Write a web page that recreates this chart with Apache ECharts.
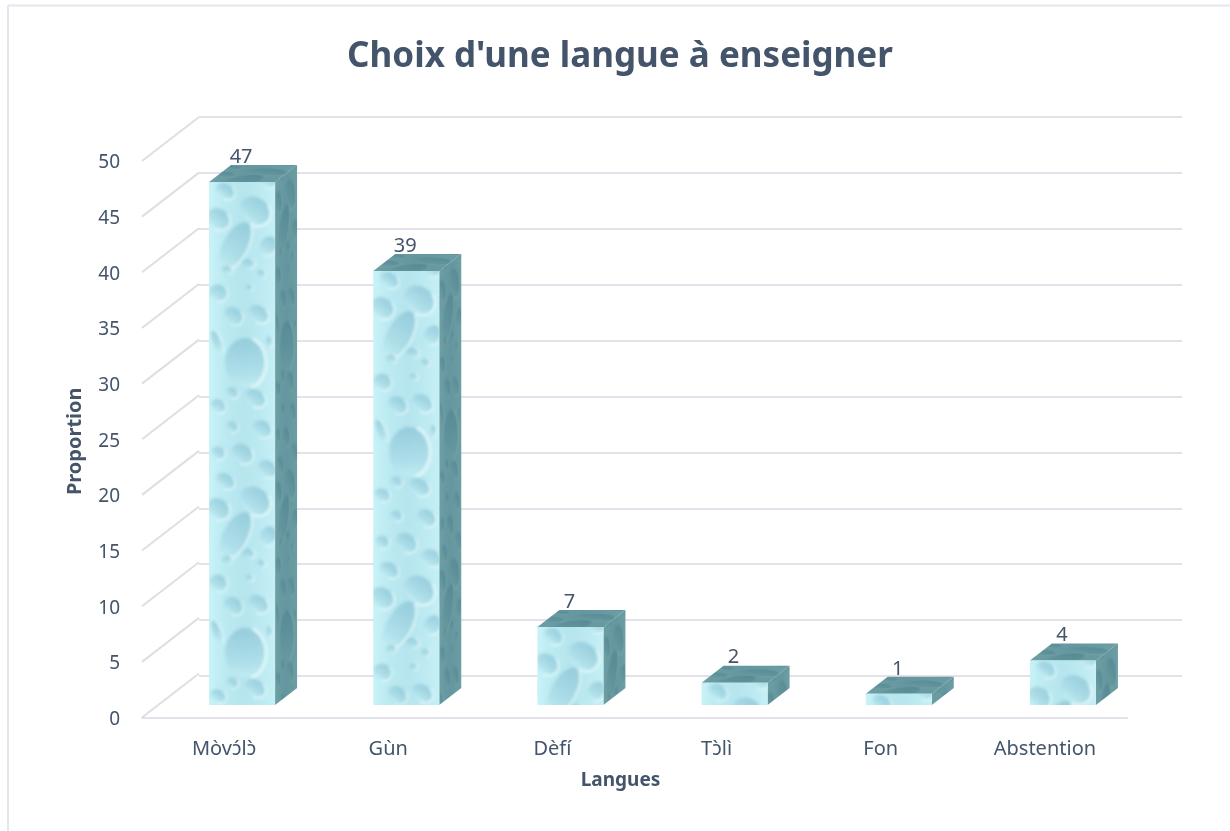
<!DOCTYPE html>
<html><head><meta charset="utf-8">
<style>html,body{margin:0;padding:0;background:#fff}#c{width:1230px;height:831px}</style>
<script src="https://cdn.jsdelivr.net/npm/echarts@6/dist/echarts.min.js"></script>
</head><body><div id="c"></div>
<script>
const categories = ['Mòvɔ́lɔ̀', 'Gùn', 'Dèfí', 'Tɔ̀lì', 'Fon', 'Abstention'];
const values = [47, 39, 7, 2, 1, 4];
const ticks = [0, 5, 10, 15, 20, 25, 30, 35, 40, 45, 50];
const titleText = "Choix d'une langue à enseigner";
const xName = 'Langues';
const yName = 'Proportion';

const FONT = '"Noto Sans", "Open Sans", sans-serif';
const INK = '#44546a';
const GRIDC = '#e3e2ea';

// Water-drop texture tile: [cx, cy, rx, ry, rotationDeg]
const drops = [
  [16,9,10,7,35],[46,29,16,13,40],[9,37,12,10,35],[26,64,12,26,28],[59,64,8,10,30],
  [39,82,6,5,0],[52,92,4,4,0],[18,88,5,4,0],[9,111,9,8,30],[40,106,4,3,0],[24,134,10,8,35],[49,132,11,8,35],
  [36,181,20,25,0],[46,216,11,8,35],[23,211,6,5,30],[9,224,8,6,30],[53,247,10,8,35],
  [23,245,6,5,30],[9,271,7,6,35],[33,272,11,9,35],[58,287,10,8,35],[8,160,4,12,-20],[60,160,3,6,0]
];
function makeTile(tint, strength) {
  const w = 66, h = 290, c = document.createElement('canvas');
  c.width = w; c.height = h;
  const g = c.getContext('2d');
  g.fillStyle = '#bde8f0'; g.fillRect(0, 0, w, h);
  const wash = g.createLinearGradient(0, 0, w, 0);
  wash.addColorStop(0, 'rgba(205,248,252,0.7)');
  wash.addColorStop(0.5, 'rgba(170,225,236,0.35)');
  wash.addColorStop(1, 'rgba(205,248,252,0.5)');
  g.fillStyle = wash; g.fillRect(0, 0, w, h);
  g.filter = 'blur(1.6px)';
  [-h, 0, h].forEach(function (oy) {
    drops.forEach(function (d) {
      g.save();
      g.translate(d[0], d[1] + oy);
      g.rotate(d[4] * Math.PI / 180);
      g.globalAlpha = strength;
      g.beginPath(); g.ellipse(0, 0, d[2], d[3], 0, 0, Math.PI * 2);
      const gr = g.createLinearGradient(0, -d[3], 0, d[3]);
      gr.addColorStop(0, '#84bfd2');
      gr.addColorStop(0.7, '#a9dbe6');
      gr.addColorStop(1, '#c8f0f6');
      g.fillStyle = gr; g.fill();
      g.beginPath(); g.ellipse(0, 0, d[2] + 1, d[3] + 1, 0, -1.2, 1.3);
      g.strokeStyle = '#f2ffff';
      g.lineWidth = Math.max(1.6, d[2] / 6); g.stroke();
      g.restore();
    });
  });
  g.filter = 'none';
  if (tint) {
    g.globalCompositeOperation = 'multiply';
    g.fillStyle = tint; g.fillRect(0, 0, w, h);
  }
  return c;
}
const frontTile = makeTile(null, 0.65);
const sideTile = makeTile('#8ca8aa', 0.5);

const DX = 57, DY = 44;          // depth of the chart box
const BAR_W = 66, BAR_DX = 22, BAR_DY = 17, BAR_OFF = 18, BAR_LIFT = 12.5;

function renderBar(params, api) {
  const i = api.value(0), v = api.value(1);
  const top = api.coord([i, v]), base = api.coord([i, 0]);
  const x0 = top[0] + BAR_OFF - BAR_W / 2, x1 = x0 + BAR_W;
  const yb = base[1] - BAR_LIFT, yt = top[1] - BAR_LIFT;
  return {
    type: 'group',
    children: [
      { type: 'polygon',
        shape: { points: [[x1, yt], [x1 + BAR_DX, yt - BAR_DY], [x1 + BAR_DX, yb - BAR_DY], [x1, yb]] },
        style: { fill: { image: sideTile, repeat: 'repeat', x: x1, y: yt - BAR_DY, scaleX: BAR_DX / BAR_W, scaleY: 1 } } },
      { type: 'polygon',
        shape: { points: [[x0, yt], [x0 + BAR_DX, yt - BAR_DY], [x1 + BAR_DX, yt - BAR_DY], [x1, yt]] },
        style: { fill: { image: sideTile, repeat: 'repeat', x: x0, y: yt - BAR_DY, scaleX: 1.3, scaleY: 0.25 } } },
      { type: 'rect',
        shape: { x: x0, y: yt, width: BAR_W, height: yb - yt },
        style: { fill: { image: frontTile, repeat: 'repeat', x: x0, y: yt } } },
      { type: 'text',
        style: { text: String(v), x: top[0] + BAR_OFF - 1, y: yt - BAR_DY + 2, align: 'center', verticalAlign: 'bottom', fill: INK, font: '20px ' + FONT } }
    ]
  };
}
function renderDiagonal(params, api) {
  const p = api.coord([0, api.value(0)]);
  const x = params.coordSys.x;
  return { type: 'line',
    shape: { x1: x, y1: p[1], x2: x + DX, y2: p[1] - DY },
    style: { stroke: '#dfdfe2', lineWidth: 2 } };
}

const chart = echarts.init(document.getElementById('c'), null, { renderer: 'canvas' });
chart.setOption({
  animation: false,
  backgroundColor: '#fff',
  textStyle: { fontFamily: FONT },
  title: { text: titleText, left: 615, top: 35, textAlign: 'center',
    textStyle: { color: INK, fontSize: 35, fontWeight: 'bold', fontFamily: FONT } },
  graphic: [
    { type: 'line', silent: true, shape: { x1: 8, y1: 5.5, x2: 1230, y2: 5.5 }, style: { stroke: '#e2e8ee', lineWidth: 2 } },
    { type: 'line', silent: true, shape: { x1: 8, y1: 5, x2: 8, y2: 831 }, style: { stroke: '#e2e8ee', lineWidth: 2 } }
  ],
  grid: [
    { left: 142, top: 161, width: 985, height: 556.5 },
    { left: 199, top: 117, width: 983, height: 559 },
    { left: 142, top: 163, width: 985, height: 556.5 }
  ],
  xAxis: [
    { type: 'category', gridIndex: 0, data: categories,
      axisTick: { show: false },
      axisLine: { show: true, lineStyle: { color: GRIDC, width: 2 } },
      axisLabel: { color: INK, fontSize: 20, margin: 22, interval: 0 },
      name: xName, nameLocation: 'middle', nameGap: 54,
      nameTextStyle: { color: INK, fontSize: 19, fontWeight: 'bold', padding: [0, 28, 0, 0] } },
    { type: 'category', gridIndex: 1, data: categories, show: false },
    { type: 'category', gridIndex: 2, data: categories, show: false }
  ],
  yAxis: [
    { type: 'value', gridIndex: 0, min: 0, max: 50, interval: 5, show: false },
    { type: 'value', gridIndex: 1, min: 0, max: 50, interval: 5,
      axisLine: { show: false }, axisTick: { show: false }, axisLabel: { show: false },
      splitLine: { show: true, lineStyle: { color: GRIDC, width: 2 } } },
    { type: 'value', gridIndex: 2, min: 0, max: 50, interval: 5,
      axisLine: { show: false }, axisTick: { show: false }, splitLine: { show: false },
      axisLabel: { color: INK, fontSize: 19, margin: 22 },
      name: yName, nameLocation: 'middle', nameGap: 57,
      nameTextStyle: { color: INK, fontSize: 20, fontWeight: 'bold' } }
  ],
  series: [
    { type: 'custom', xAxisIndex: 0, yAxisIndex: 0, clip: false, silent: true, z: 1,
      renderItem: renderDiagonal, data: ticks.map(function (t) { return [t]; }), encode: { y: 0 } },
    { type: 'custom', xAxisIndex: 0, yAxisIndex: 0, clip: false, silent: true, z: 5,
      renderItem: renderBar, data: values.map(function (v, i) { return [i, v]; }), encode: { x: 0, y: 1 } }
  ]
});
</script></body></html>
